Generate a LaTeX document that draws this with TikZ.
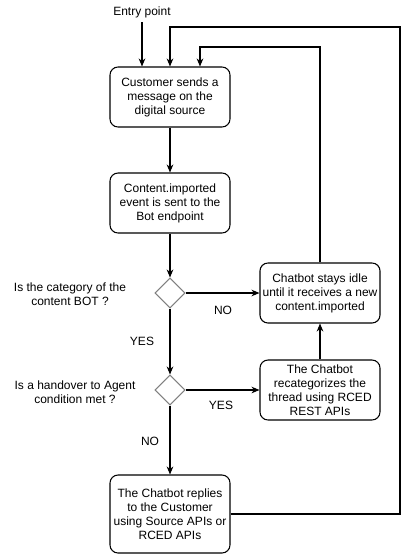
\documentclass[tikz,border=0pt]{standalone}
\usepackage{fontspec}
\setmainfont{Liberation Sans}
\usetikzlibrary{arrows.meta,shapes.geometric}

\tikzset{
  stepbox/.style={draw,thick,rounded corners=6pt,align=center,minimum width=90pt,inner sep=2pt},
  choice/.style={draw=gray,thick,diamond,minimum width=22.5pt,minimum height=22.5pt,inner sep=0pt},
  arr/.style={thick,-{Stealth[length=6pt,width=5pt]}},
  lbl/.style={align=center}
}

\begin{document}
\begin{tikzpicture}[x=0.75pt,y=-0.75pt,font=\fontsize{9}{10.5}\selectfont]
\useasboundingbox (0,0) rectangle (409,554);

\node (entry) at (142,12) {Entry point};
\node[stepbox,minimum height=45pt] (cust) at (170,97) {Customer sends a\\message on the\\digital source};
\node[stepbox,minimum height=45pt] (event) at (170,203) {Content.imported\\event is sent to the\\Bot endpoint};
\node[choice] (isbot) at (170,293) {};
\node[stepbox,minimum height=45pt] (idle) at (320,293) {Chatbot stays idle\\until it receives a new\\content.imported};
\node[choice] (hand) at (170,390) {};
\node[stepbox,minimum height=45pt] (recat) at (320,390) {The Chatbot\\recategorizes the\\thread using RCED\\REST APIs};
\node[stepbox,minimum height=58.5pt] (reply) at (170,514) {The Chatbot replies\\to the Customer\\using Source APIs or\\RCED APIs};

\node[lbl] (q1) at (70,294) {Is the category of the\\content BOT ?};
\node[lbl] (q2) at (75,392) {Is a handover to Agent\\condition met ?};
\node (no1) at (223,310) {NO};
\node (yes1) at (142,341) {YES};
\node (yes2) at (221,405) {YES};
\node (no2) at (150,441) {NO};

\coordinate (outer) at (400,27);
\coordinate (inner) at (200,47);

\draw[arr] (entry.south) -- (entry.south |- cust.north);
\draw[arr] (cust) -- (event);
\draw[arr] (event) -- (isbot);
\draw[arr] (isbot) -- (idle);
\draw[arr] (isbot) -- (hand);
\draw[arr] (hand) -- (recat);
\draw[arr] (hand) -- (reply);
\draw[arr] (recat) -- (idle);
\draw[arr] (idle.north) |- (inner) -- (inner |- cust.north);
\draw[arr] (reply.east) -| (outer) -| (cust.north);

\end{tikzpicture}
\end{document}
